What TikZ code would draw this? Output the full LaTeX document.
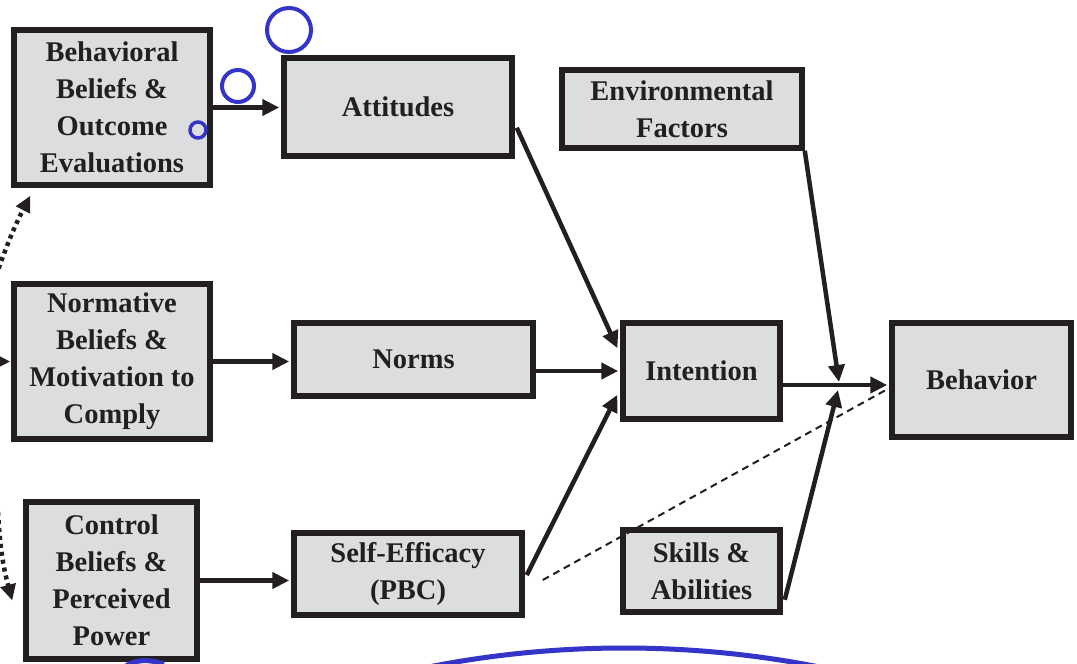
\documentclass[tikz,border=0pt]{standalone}
\usepackage{fontspec}
\setmainfont{Liberation Serif}
\usetikzlibrary{arrows.meta,calc}
\definecolor{boxfill}{RGB}{220,221,223}
\definecolor{ink}{RGB}{35,31,32}
\definecolor{annot}{RGB}{52,52,200}
\begin{document}
\begin{tikzpicture}[x=1pt,y=-1pt,
  box/.style={draw=ink, line width=5.5pt, fill=boxfill, align=center, inner sep=0pt,
    text=ink, font=\fontsize{28.5}{37}\selectfont\bfseries},
  arr/.style={draw=ink, line width=4.5pt, shorten >=2pt,
    -{Triangle[length=17pt,width=16pt]}},
  dotarr/.style={draw=ink, line width=4.5pt, dash pattern=on 4pt off 4pt,
    -{Triangle[length=16pt,width=15pt]}},
  dasharr/.style={draw=ink, line width=2pt, dash pattern=on 7pt off 5pt},
  bluering/.style={draw=annot, line width=4pt}
]
\useasboundingbox (0,0) rectangle (1077,664);
\fill[white] (0,0) rectangle (1077,664);

% boxes
\node[box, minimum width=196pt, minimum height=155pt] (bb) at (112,107.5)
  {Behavioral\\Beliefs \&\\Outcome\\Evaluations};
\node[box, minimum width=228pt, minimum height=98pt] (att) at (398,107) {Attitudes};
\node[box, minimum width=240pt, minimum height=78pt] (env) at (682,109)
  {Environmental\\Factors};
\node[box, minimum width=196pt, minimum height=155pt] (nb) at (112,361.5)
  {Normative\\Beliefs \&\\Motivation to\\Comply};
\node[box, minimum width=239pt, minimum height=73pt] (norms) at (413.5,359.5) {Norms};
\node[box, minimum width=157pt, minimum height=96pt] (int) at (701.5,371) {Intention};
\node[box, minimum width=179pt, minimum height=114pt] (beh) at (981.5,380) {Behavior};
\node[box, minimum width=171pt, minimum height=157pt] (cb) at (111.5,580.5)
  {Control\\Beliefs \&\\Perceived\\Power};
\node[box, minimum width=228pt, minimum height=82pt] (se) at (408,574)
  {Self-Efficacy\\(PBC)};
\node[box, minimum width=157pt, minimum height=82pt] (sk) at (701.5,571)
  {Skills \&\\Abilities};

% connectors
\coordinate (j) at (838,385);
\draw[arr] (bb.east) -- (bb.east -| att.west);
\draw[arr] (nb.east) -- (nb.east -| norms.west);
\draw[arr] (cb.east) -- (cb.east -| se.west);
\draw[arr] ($(att.south east)+(2,-31)$) -- ($(int.west)+(-2,-21)$);
\draw[arr] (int.west -| norms.east) -- (int.west);
\draw[arr] ($(se.east)+(2,1)$) -- ($(int.west)+(-2,22)$);
\draw[arr] (int.east |- j) -- (beh.west |- j);
\draw[arr, shorten >=0pt] (env.south east) -- ($(j)+(1,-3)$);
\draw[arr, shorten >=0pt] ($(sk.south east)+(2,-15)$) -- ($(j)+(0,5)$);
\draw[dasharr] ($(se.east)+(18,6)$) -- ($(beh.west)+(2,7)$);

% dotted arrows from the left
\coordinate (o1) at (-4,276);
\coordinate (o2) at (-12,361.5);
\coordinate (o3) at (-2,512);
\draw[dotarr] (o1) to[bend left=4] ($(bb.south west)+(19,8)$);
\draw[dotarr, shorten >=1pt] (o2) -- (nb.west);
\draw[dotarr] (o3) to[bend right=6] ($(cb.west)+(-11,20)$);

% blue annotation marks
\draw[bluering] (289,30) circle[radius=22];
\draw[bluering] (238,86) circle[radius=16];
\draw[bluering, line width=3.5pt] (198,130) circle[radius=8];
\draw[bluering, line width=5pt] (624,1653) circle[radius=1005];
\draw[bluering, line width=5pt] (124,668) .. controls (132,659) and (150,659) .. (164,664);
\end{tikzpicture}
\end{document}
